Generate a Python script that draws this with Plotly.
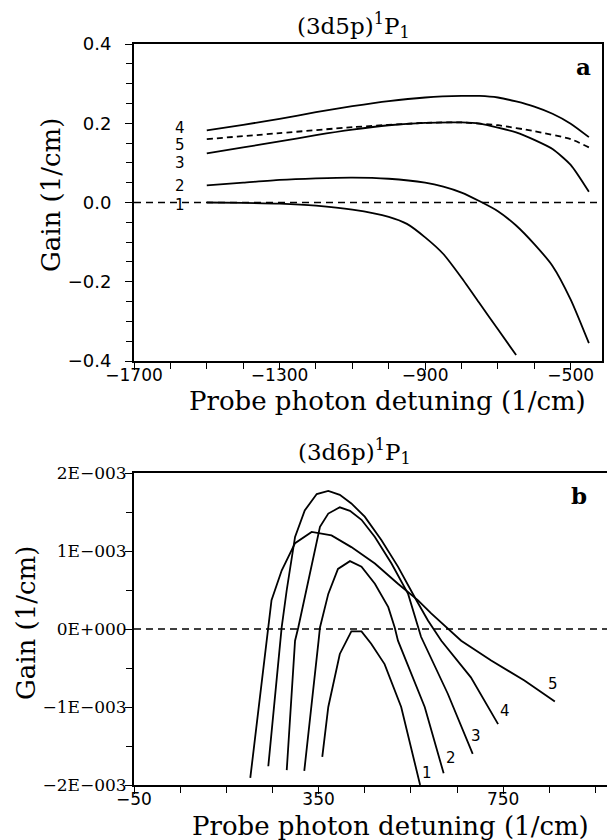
import numpy as np
import plotly.graph_objects as go

# ---------------- Panel a : (3d5p)1P1 ----------------
xa_1 = [-1500, -1400, -1300, -1200, -1100, -1000, -950, -900, -850, -800, -750, -700, -650]
ya_1 = [0.000, -0.001, -0.003, -0.008, -0.018, -0.036, -0.054, -0.088, -0.130, -0.190, -0.255, -0.320, -0.385]

xa_2 = [-1500, -1400, -1300, -1200, -1100, -1000, -900, -850, -800, -750, -700, -650, -600, -550, -500, -450]
ya_2 = [0.043, 0.050, 0.057, 0.061, 0.063, 0.060, 0.050, 0.040, 0.025, 0.003, -0.022, -0.058, -0.105, -0.160, -0.245, -0.355]

xa_3 = [-1500, -1400, -1300, -1200, -1100, -1000, -900, -800, -750, -700, -650, -600, -550, -500, -450]
ya_3 = [0.124, 0.139, 0.154, 0.170, 0.184, 0.195, 0.201, 0.202, 0.199, 0.189, 0.177, 0.158, 0.135, 0.095, 0.027]

xa_4 = [-1500, -1400, -1300, -1200, -1100, -1000, -900, -800, -750, -700, -650, -600, -550, -500, -450]
ya_4 = [0.182, 0.196, 0.211, 0.228, 0.243, 0.256, 0.265, 0.269, 0.269, 0.265, 0.255, 0.242, 0.224, 0.199, 0.165]

xa_5 = [-1500, -1300, -1100, -900, -800, -700, -600, -500, -450]
ya_5 = [0.160, 0.175, 0.190, 0.201, 0.202, 0.195, 0.180, 0.160, 0.139]

# ---------------- Panel b : (3d6p)1P1  (gain in units of 1E-003) ----------------
xb_1 = [358, 371, 396, 410, 421, 443, 464, 493, 529, 570]
yb_1 = [-1.64, -1.00, -0.32, -0.15, -0.03, -0.03, -0.19, -0.45, -1.00, -2.00]

xb_2 = [319, 335, 350, 353, 371, 392, 418, 443, 472, 501, 515, 522, 580, 621]
yb_2 = [-1.82, -1.00, -0.15, 0.02, 0.45, 0.77, 0.87, 0.80, 0.58, 0.28, 0.02, -0.15, -1.00, -1.85]

xb_3 = [281, 299, 306, 339, 353, 371, 396, 418, 443, 472, 508, 544, 572, 630, 684]
yb_3 = [-1.81, -0.15, 0.02, 0.92, 1.31, 1.48, 1.56, 1.515, 1.40, 1.18, 0.84, 0.45, -0.10, -0.83, -1.60]

xb_4 = [241, 266, 270, 281, 299, 320, 346, 371, 396, 421, 450, 486, 522, 558, 587, 616, 680, 739]
yb_4 = [-1.76, -0.15, 0.02, 0.50, 1.18, 1.52, 1.73, 1.77, 1.72, 1.61, 1.44, 1.14, 0.80, 0.41, 0.11, -0.15, -0.62, -1.22]

xb_5 = [202, 238, 241, 248, 270, 299, 335, 378, 421, 472, 522, 565, 594, 659, 724, 796, 862]
yb_5 = [-1.91, -0.15, 0.02, 0.37, 0.75, 1.10, 1.245, 1.20, 1.05, 0.84, 0.58, 0.37, 0.20, -0.15, -0.405, -0.66, -0.93]

# tick labels
a_xticks = [-1700, -1300, -900, -500]
a_yticks = [-0.4, -0.2, 0.0, 0.2, 0.4]
b_xticks = [-50, 350, 750]
b_yticks = [-2e-3, -1e-3, 0.0, 1e-3, 2e-3]
b_yticktext = ["\u22122E\u2212003", "\u22121E\u2212003", "0E+000", "1E\u2212003", "2E\u2212003"]

# curve label positions
a_labels = ["4", "5", "3", "2", "1"]
a_lab_x = [-1573, -1573, -1573, -1573, -1573]
a_lab_y = [0.188, 0.145, 0.100, 0.042, -0.007]
b_labels = ["1", "2", "3", "4", "5"]
b_lab_x = [585, 637, 691, 754, 857]
b_lab_y = [-1.84e-3, -1.65e-3, -1.37e-3, -1.05e-3, -0.705e-3]

W, H = 607, 840
LW = 1.8
SERIF = "DejaVu Serif"
SANS = "DejaVu Sans"

fig = go.Figure()

for xs, ys in [(xa_1, ya_1), (xa_2, ya_2), (xa_3, ya_3), (xa_4, ya_4)]:
    fig.add_trace(go.Scatter(x=xs, y=ys, mode="lines", line=dict(color="black", width=LW, shape="spline", smoothing=0.6),
                             xaxis="x", yaxis="y", showlegend=False, hoverinfo="skip"))
fig.add_trace(go.Scatter(x=xa_5, y=ya_5, mode="lines", line=dict(color="black", width=LW, dash="6px,4px", shape="spline", smoothing=0.6),
                         xaxis="x", yaxis="y", showlegend=False, hoverinfo="skip"))

for xs, ys in [(xb_1, yb_1), (xb_2, yb_2), (xb_3, yb_3), (xb_4, yb_4), (xb_5, yb_5)]:
    fig.add_trace(go.Scatter(x=xs, y=np.array(ys) * 1e-3, mode="lines", line=dict(color="black", width=LW),
                             xaxis="x2", yaxis="y2", showlegend=False, hoverinfo="skip"))

# zero reference lines
fig.add_shape(type="line", xref="x domain", yref="y", x0=0, x1=1, y0=0, y1=0,
              line=dict(color="black", width=1.5, dash="7px,5px"))
fig.add_shape(type="line", xref="x2 domain", yref="y2", x0=0, x1=1, y0=0, y1=0,
              line=dict(color="black", width=1.5, dash="7px,5px"))

axis_common = dict(showgrid=False, zeroline=False, showline=True, linecolor="black", linewidth=1.8,
                   ticks="outside", tickcolor="black", tickwidth=1.4, ticklen=7, automargin=False)
minor_common = dict(ticks="outside", ticklen=6, tickcolor="black", tickwidth=1.3)

fig.update_layout(
    width=W, height=H, margin=dict(l=0, r=0, t=0, b=0, autoexpand=False),
    paper_bgcolor="white", plot_bgcolor="white", showlegend=False,
    xaxis=dict(domain=[134 / W, 602 / W], range=[-1700, -414], anchor="y", mirror=True,
               tickvals=a_xticks, tickfont=dict(family=SANS, size=17, color="black"), ticklabelstandoff=-9,
               minor=dict(dtick=100, tick0=-1700, **minor_common), **axis_common),
    yaxis=dict(domain=[1 - 361 / H, 1 - 44 / H], range=[-0.4, 0.4], anchor="x", mirror=True,
               tickvals=a_yticks, tickformat=".1f", tickfont=dict(family=SANS, size=18, color="black"),
               ticklabelstandoff=10,
               minor=dict(dtick=0.05, tick0=0, **minor_common), **axis_common),
    xaxis2=dict(domain=[134 / W, 1.0], range=[-50, 975], anchor="y2", mirror=True,
                tickvals=b_xticks, tickfont=dict(family=SANS, size=17, color="black"), ticklabelstandoff=-9,
                minor=dict(dtick=100, tick0=-50, **minor_common), **axis_common),
    yaxis2=dict(domain=[1 - 785 / H, 1 - 473 / H], range=[-2e-3, 2e-3], anchor="x2", mirror=False,
                tickvals=b_yticks, ticktext=b_yticktext, tickfont=dict(family=SERIF, size=17, color="black"),
                ticklabelstandoff=-5,
                minor=dict(dtick=0.5e-3, tick0=0, **minor_common), **axis_common),
)

ann = []
def pa(text, x, y, size, family=SERIF, angle=0, bold=False):
    t = f"<b>{text}</b>" if bold else text
    ann.append(dict(text=t, x=x / W, y=1 - y / H, xref="paper", yref="paper", showarrow=False,
                    font=dict(family=family, size=size, color="black"), textangle=angle,
                    xanchor="center", yanchor="middle"))

pa("(3d5p)<sup>1</sup>P<sub>1</sub>", 353, 25, 23)
pa("Probe photon detuning (1/cm)", 388, 401, 26)
pa("Gain (1/cm)", 51, 195, 26, angle=-90)
pa("a", 583, 67, 23, bold=True)

pa("(3d6p)<sup>1</sup>P<sub>1</sub>", 354, 451, 23)
pa("Probe photon detuning (1/cm)", 390, 826, 26)
pa("Gain (1/cm)", 26, 623, 26, angle=-90)
pa("b", 579, 495, 23, bold=True)

for t, x, y in zip(a_labels, a_lab_x, a_lab_y):
    ann.append(dict(text=t, x=x, y=y, xref="x", yref="y", showarrow=False,
                    font=dict(family=SANS, size=15, color="black"), xanchor="center", yanchor="middle"))
for t, x, y in zip(b_labels, b_lab_x, b_lab_y):
    ann.append(dict(text=t, x=x, y=y, xref="x2", yref="y2", showarrow=False,
                    font=dict(family=SANS, size=15, color="black"), xanchor="center", yanchor="middle"))

fig.update_layout(annotations=ann)
fig.write_html("out.html", config={"displayModeBar": False},
               post_script="document.body.style.margin='0';")
